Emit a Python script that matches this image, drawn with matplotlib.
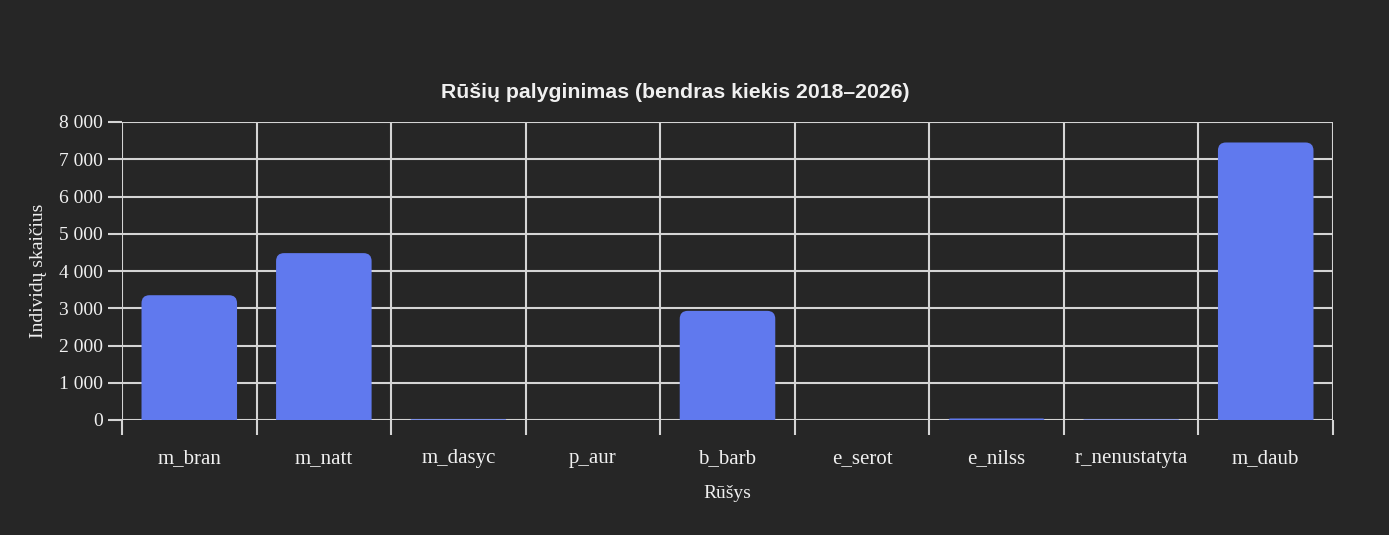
import matplotlib
matplotlib.use('Agg')
import matplotlib.pyplot as plt
from matplotlib.patches import FancyBboxPatch
from matplotlib.ticker import FuncFormatter, FixedLocator
import numpy as np

# ── Data ──────────────────────────────────────────────────────────────
species = ['m_bran', 'm_natt', 'm_dasyc', 'p_aur', 'b_barb',
           'e_serot', 'e_nilss', 'r_nenustatyta', 'm_daub']
counts = [3350, 4480, 20, 0, 2930, 0, 40, 15, 7450]

TITLE = 'Rūšių palyginimas (bendras kiekis 2018–2026)'
XLABEL = 'Rūšys'
YLABEL = 'Individų skaičius'

# ── Style ─────────────────────────────────────────────────────────────
BG = '#262626'
BAR = '#6079ee'
GRID = '#d4d4d4'
TEXT = '#f0f0f0'
SERIF = 'Liberation Serif'
SANS = 'Liberation Sans'

fig = plt.figure(figsize=(13.89, 5.35), dpi=100)
fig.patch.set_facecolor(BG)
ax = fig.add_axes([122 / 1389, 1 - 420 / 535, 1211 / 1389, 298 / 535])
ax.set_facecolor(BG)

x = np.arange(len(species))
bars = ax.bar(x, counts, width=0.71, color=BAR, zorder=2)

ax.set_xlim(-0.5, len(species) - 0.5)
ax.set_ylim(0, 8000)

# replace plain bars with top-rounded ones (bottom hidden below the axis)
fig.canvas.draw()
px_x = ax.transData.transform((1, 0))[0] - ax.transData.transform((0, 0))[0]
px_y = ax.transData.transform((0, 1))[1] - ax.transData.transform((0, 0))[1]
aspect = px_x / px_y
for b in bars:
    bx, bw, bh = b.get_x(), b.get_width(), b.get_height()
    b.remove()
    if bh <= 0:
        continue
    r_px = min(8, max(bh * px_y, 0.5))
    ext = r_px / px_y
    patch = FancyBboxPatch((bx, -ext), bw, bh + ext,
                           boxstyle=f'round,pad=0,rounding_size={r_px / px_x}',
                           mutation_aspect=aspect,
                           facecolor=BAR, edgecolor='none', zorder=2,
                           clip_on=True)
    ax.add_patch(patch)

for s in ax.spines.values():
    s.set_visible(False)

ax.set_axisbelow(True)
ax.yaxis.set_major_locator(FixedLocator(np.arange(0, 8001, 1000)))
ax.yaxis.set_major_formatter(FuncFormatter(lambda v, p: f'{int(v):,}'.replace(',', ' ')))
ax.grid(axis='y', which='major', color=GRID, linewidth=1.5)

ax.set_xticks(x)
ax.set_xticklabels(species)
ax.set_xticks(np.arange(-0.5, len(species)), minor=True)
ax.grid(axis='x', which='minor', color=GRID, linewidth=1.5)

ax.tick_params(axis='x', which='major', length=0, pad=21, labelsize=15,
               labelcolor=TEXT)
ax.tick_params(axis='x', which='minor', length=11, width=1.5, color=GRID)
ax.tick_params(axis='y', length=10, width=1.5, color=GRID, pad=4,
               labelsize=14, labelcolor=TEXT)
for lab in ax.get_xticklabels() + ax.get_yticklabels():
    lab.set_fontfamily(SERIF)

ax.set_xlabel(XLABEL, fontsize=14, color=TEXT, fontfamily=SERIF, labelpad=12)
ax.set_ylabel(YLABEL, fontsize=14, color=TEXT, fontfamily=SERIF, labelpad=8)
fig.text(675 / 1389, 1 - 92 / 535, TITLE, ha='center', va='center',
         fontsize=15.3, fontweight='bold', color=TEXT, fontfamily=SANS)

fig.savefig('out.png', dpi=100, facecolor=BG)
